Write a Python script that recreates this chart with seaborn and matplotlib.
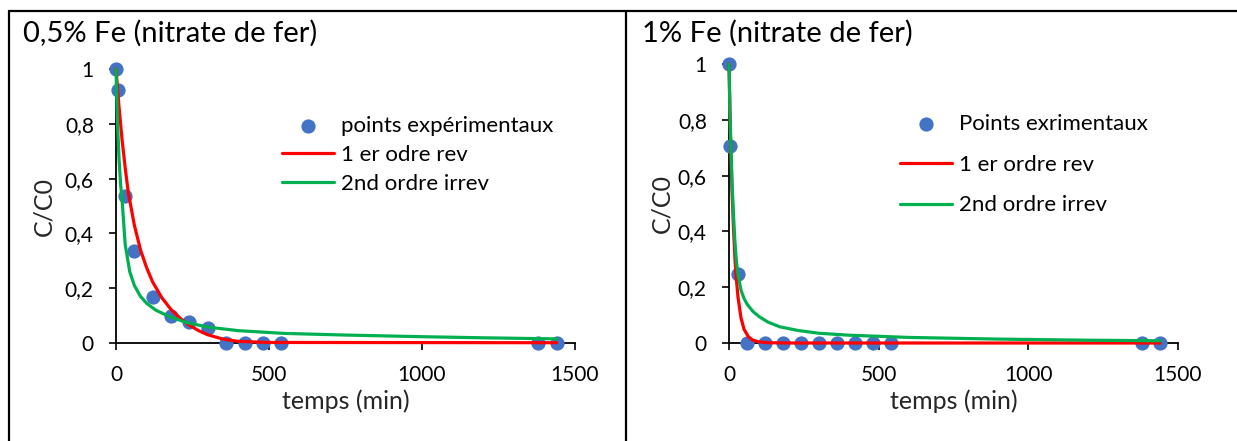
import matplotlib
matplotlib.use("Agg")
import matplotlib.pyplot as plt
import seaborn as sns
from matplotlib.lines import Line2D

# ---- data ----
# 0,5% Fe : experimental points
t_pts_05 = [0, 5, 30, 60, 120, 180, 240, 300, 360, 420, 480, 540, 1380, 1440]
c_pts_05 = [1.0, 0.923, 0.536, 0.336, 0.169, 0.10, 0.078, 0.056, 0, 0, 0, 0, 0, 0]
# 0,5% Fe : fitted curves
t_rev_05 = [0, 5, 10, 20, 30, 40, 60, 80, 100, 120, 150, 180, 210, 240, 270, 300, 350, 400, 500, 1440]
c_rev_05 = [1.0, 0.93, 0.86, 0.74, 0.64, 0.55, 0.43, 0.34, 0.275, 0.222, 0.165, 0.122, 0.09, 0.065,
            0.045, 0.03, 0.014, 0.006, 0.002, 0.001]
t_irr_05 = [0, 5, 10, 15, 20, 30, 45, 60, 80, 100, 130, 175, 230, 300, 400, 550, 750, 1000, 1200, 1440]
c_irr_05 = [1.0, 0.80, 0.67, 0.58, 0.52, 0.36, 0.26, 0.21, 0.17, 0.145, 0.12, 0.096, 0.075, 0.058,
            0.045, 0.035, 0.029, 0.023, 0.019, 0.015]

# 1% Fe : experimental points
t_pts_1 = [0, 5, 30, 60, 120, 180, 240, 300, 360, 420, 480, 540, 1380, 1440]
c_pts_1 = [1.0, 0.706, 0.246, 0, 0, 0, 0, 0, 0, 0, 0, 0, 0, 0]
# 1% Fe : fitted curves
t_rev_1 = [0, 5, 10, 15, 20, 25, 30, 40, 50, 65, 80, 100, 130, 200, 1440]
c_rev_1 = [1.0, 0.74, 0.55, 0.41, 0.30, 0.225, 0.165, 0.09, 0.05, 0.022, 0.01, 0.004, 0.001, 0, 0]
t_irr_1 = [0, 3, 6, 10, 15, 20, 25, 30, 40, 50, 60, 80, 100, 130, 170, 230, 300, 400, 600, 900, 1200, 1440]
c_irr_1 = [1.0, 0.83, 0.72, 0.58, 0.46, 0.36, 0.29, 0.245, 0.19, 0.16, 0.14, 0.113, 0.095, 0.075,
           0.058, 0.045, 0.035, 0.028, 0.02, 0.014, 0.01, 0.008]

titles = ["0,5% Fe (nitrate de fer)", "1% Fe (nitrate de fer)"]
pts_labels = ["points expérimentaux", "Points exrimentaux"]
rev_labels = ["1 er odre rev", "1 er ordre rev"]
irr_label = "2nd ordre irrev"
x_ticks = [0, 500, 1000, 1500]
y_ticks = [0, 0.2, 0.4, 0.6, 0.8, 1.0]
y_ticklabels = ["0", "0,2", "0,4", "0,6", "0,8", "1"]

sns.set_theme(style="white")
plt.rcParams['font.family'] = ['Lato', 'DejaVu Sans']
plt.rcParams['text.color'] = 'black'

BLUE = "#4472C4"
RED = "#FF0000"
GREEN = "#00B050"

W, H = 1237, 441
fig = plt.figure(figsize=(W / 100, H / 100), dpi=100)
fig.patch.set_facecolor("white")

ax1 = fig.add_axes([116 / W, 1 - 343 / H, (575 - 116) / W, (343 - 69) / H])
ax2 = fig.add_axes([729 / W, 1 - 343 / H, (1178 - 729) / W, (343 - 64) / H])

panels = [
    (ax1, t_pts_05, c_pts_05, t_rev_05, c_rev_05, t_irr_05, c_irr_05),
    (ax2, t_pts_1, c_pts_1, t_rev_1, c_rev_1, t_irr_1, c_irr_1),
]
legend_pos = [(282 / W, 1 - 116 / H, 0.40), (900 / W, 1 - 114 / H, 0.93)]
title_x = [23 / W, 642 / W]
ylab_x = [43.5, 661.5]

for i, (ax, tp, cp, tr, cr, ti, ci) in enumerate(panels):
    sns.scatterplot(x=tp, y=cp, ax=ax, color=BLUE, s=105, linewidth=0,
                    label=pts_labels[i], clip_on=False, zorder=3)
    sns.lineplot(x=tr, y=cr, ax=ax, color=RED, linewidth=2.3, label=rev_labels[i],
                 clip_on=False, zorder=4)
    sns.lineplot(x=ti, y=ci, ax=ax, color=GREEN, linewidth=2.3, label=irr_label,
                 clip_on=False, zorder=5)

    ax.set_xlim(0, 1500)
    ax.set_ylim(0, 1)
    ax.set_xticks(x_ticks)
    ax.set_xticklabels([str(v) for v in x_ticks])
    ax.set_yticks(y_ticks)
    ax.set_yticklabels(y_ticklabels)
    ax.tick_params(axis="both", direction="out", length=5, width=1.2, colors="black",
                   labelsize=15, bottom=True, left=True)
    ax.tick_params(axis="y", pad=11)
    ax.tick_params(axis="x", pad=11)
    for side in ["top", "right"]:
        ax.spines[side].set_visible(False)
    for side in ["left", "bottom"]:
        ax.spines[side].set_color("black")
        ax.spines[side].set_linewidth(1.3)
    ax.set_facecolor("white")

    ax.set_xlabel("temps (min)", fontsize=18)
    ax.set_ylabel("C/C0", fontsize=18)
    bb = ax.get_position()
    ax.xaxis.set_label_coords(0.5, (1 - 401 / H - bb.y0) / bb.height)
    ax.xaxis.label.set_va("center")
    ax.yaxis.set_label_coords((ylab_x[i] / W - bb.x0) / bb.width, 0.5)
    ax.yaxis.label.set_va("center")

    lx, ly, sp = legend_pos[i]
    ax.legend(loc="upper left", bbox_to_anchor=(lx, ly), bbox_transform=fig.transFigure,
              frameon=False, fontsize=16, borderpad=0, borderaxespad=0,
              handlelength=2.35, handletextpad=0.3, labelspacing=sp)

    fig.text(title_x[i], 1 - 42 / H, titles[i], fontsize=21, va="baseline", ha="left")

# table-like frame around the two panels
frame_kw = dict(color="black", linewidth=1.6, transform=fig.transFigure)
fig.add_artist(Line2D([9 / W, 1], [1 - 11 / H, 1 - 11 / H], **frame_kw))
fig.add_artist(Line2D([9 / W, 9 / W], [0, 1 - 11 / H], **frame_kw))
fig.add_artist(Line2D([626 / W, 626 / W], [0, 1 - 11 / H], **frame_kw))

fig.savefig("out.png", dpi=100)
